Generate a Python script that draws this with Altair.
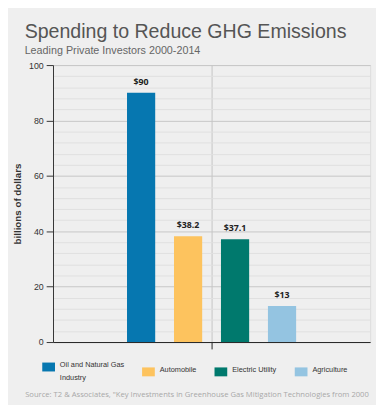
import altair as alt
import pandas as pd

# ---- data ----
sectors = ["Oil and Natural Gas Industry", "Automobile", "Electric Utility", "Agriculture"]
spending = [90, 38.2, 37.1, 13]
value_labels = ["$90", "$38.2", "$37.1", "$13"]
colors = ["#0677b0", "#fdc35e", "#00796d", "#94c4e1"]
y_ticks = [0, 4, 8, 12, 16, 20, 24, 28, 32, 36, 40, 44, 48, 52, 56, 60,
           64, 68, 72, 76, 80, 84, 88, 92, 96, 100]

title_text = "Spending to Reduce GHG Emissions"
subtitle_text = "Leading Private Investors 2000-2014"
y_title = "billions of dollars"
source_text = ('Source: T2 & Associates, "Key Investments in Greenhouse Gas '
               'Mitigation Technologies from 2000')

df = pd.DataFrame({
    "group": ["all"] * len(sectors),
    "sector": sectors,
    "value": spending,
    "label": value_labels,
})

BG = "#efefef"

x_enc = alt.X(
    "group:N",
    scale=alt.Scale(paddingInner=0, paddingOuter=0.34375),
    axis=alt.Axis(
        labels=False,
        title=source_text,
        titleFont="Open Sans",
        titleFontSize=7.8,
        titleFontWeight="normal",
        titleColor="#a8a8a8",
        titleAnchor="start",
        titleAlign="left",
        titleBaseline="alphabetic",
        titleX=-29,
        titleY=56,
        titleLimit=1000,
        grid=True,
        gridColor="#c4c4c4",
        gridWidth=1,
        domainColor="#222222",
        domainWidth=1,
        tickColor="#222222",
        tickSize=7,
    ),
)
xoff_enc = alt.XOffset(
    "sector:N", sort=sectors, scale=alt.Scale(paddingInner=0.4, paddingOuter=0.2)
)
y_enc = alt.Y(
    "value:Q",
    scale=alt.Scale(domain=[0, 100], nice=False),
    axis=alt.Axis(
        values=y_ticks,
        tickCount=len(y_ticks),
        title=y_title,
        titleFont="Liberation Sans",
        titleFontSize=10,
        titleFontWeight="bold",
        titleColor="#333333",
        titlePadding=6,
        labelFont="Liberation Sans",
        labelFontSize=9,
        labelColor="#333333",
        labelPadding=3,
        labelOverlap=False,
        labelExpr="datum.value % 20 === 0 ? datum.label : ''",
        grid=True,
        gridColor={"condition": {"test": "datum.value % 20 === 0", "value": "#c6c6c6"},
                   "value": "#dfdfdf"},
        gridWidth=1,
        tickOpacity={"condition": {"test": "datum.value % 20 === 0", "value": 1},
                     "value": 0},
        tickColor="#333333",
        tickSize=7,
        domainColor="#333333",
        domainWidth=1,
    ),
)

bars = alt.Chart(df).mark_bar().encode(
    x=x_enc,
    xOffset=xoff_enc,
    y=y_enc,
    color=alt.Color(
        "sector:N",
        sort=sectors,
        scale=alt.Scale(domain=sectors, range=colors),
        legend=alt.Legend(
            orient="none",
            legendX=-11,
            legendY=302,
            direction="horizontal",
            columns=4,
            title=None,
            padding=0,
            columnPadding=18,
            labelOffset=5,
            labelFont="Liberation Sans",
            labelFontSize=7.5,
            labelColor="#333333",
            labelLimit=200,
            labelBaseline="alphabetic",
            labelExpr="datum.label == 'Oil and Natural Gas Industry' ? ['Oil and Natural Gas', 'Industry'] : datum.label",
            symbolType="M-1,-0.7L1,-0.7L1,0.7L-1,0.7Z",
            symbolSize=169,
            symbolStrokeWidth=0,
            symbolOpacity=1,
        ),
    ),
)

texts = alt.Chart(df).mark_text(
    baseline="bottom",
    dy=-6,
    font="Open Sans",
    fontSize=9,
    fontWeight="bold",
    color="#222222",
).encode(
    x=alt.X("group:N"),
    xOffset=alt.XOffset("sector:N", sort=sectors),
    y=alt.Y("value:Q"),
    text="label:N",
)

chart = (
    alt.layer(bars, texts)
    .properties(
        width=324,
        height=283,
        autosize=alt.AutoSizeParams(type="none"),
        padding={"left": 46, "top": 54, "right": 6, "bottom": 60},
        background=BG,
        title=alt.TitleParams(
            text=title_text,
            subtitle=subtitle_text,
            anchor="start",
            frame="group",
            dx=-29,
            offset=5,
            font="Liberation Sans",
            fontSize=20,
            fontWeight="normal",
            color="#555555",
            subtitleFont="Liberation Sans",
            subtitleFontSize=11,
            subtitleColor="#666666",
            subtitlePadding=4,
        ),
    )
    .configure_view(stroke=None, fill=BG)
    .configure(style={"guide-label": {"lineHeight": 13}})
)

chart.save("out.html", embed_options={"renderer": "svg", "actions": False})
